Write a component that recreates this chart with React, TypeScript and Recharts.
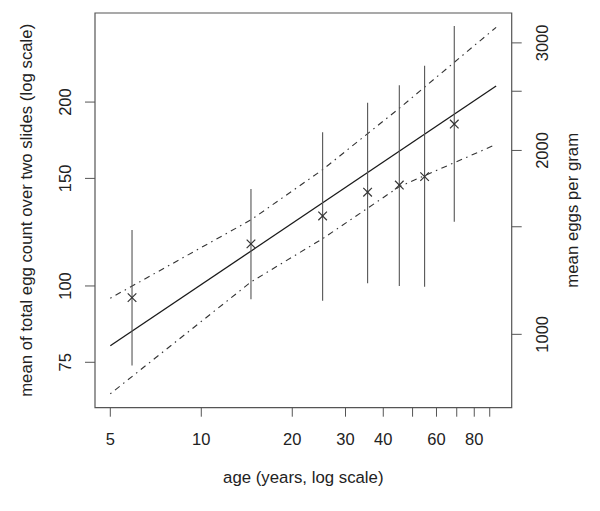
import React from "react";
import {
  ComposedChart,
  ErrorBar,
  Line,
  ReferenceArea,
  Scatter,
  XAxis,
  YAxis
} from "recharts";

// group means with intervals
const groupAge = [5.9, 14.6, 25.2, 35.5, 45.2, 54.8, 68.7];
const groupMean = [95.7, 117.2, 130.2, 142.4, 146.3, 151.0, 184.1];
const groupLow = [74.1, 95.1, 94.6, 101.0, 100.0, 99.7, 127.4];
const groupHigh = [123.5, 144.1, 178.5, 199.5, 213.1, 229.4, 266.4];

// fitted line and confidence band
const fitAge = [5, 94.5];
const fitCount = [79.8, 212.5];
const bandAge = [5, 14.6, 25.2, 45.2, 94.5];
const bandUpper = [95.5, 128.3, 155.0, 195.4, 265.1];
const bandLower = [66.6, 101.5, 119.5, 145.4, 170.5];

// axes
const xDomain = [4.45, 106.4];
const yDomain = [63.2, 279.8];
const eggsPerCount = 12;
const xTicks = [5, 10, 20, 30, 40, 50, 60, 70, 80, 90];
const xLabels = [5, 10, 20, 30, 40, 60, 80];
const yTicks = [75, 100, 150, 200];
const epgTicks = [1000, 1500, 2000, 2500, 3000];
const epgLabels = [1000, 2000, 3000];

const points = groupAge.map((age, i) => ({
  age,
  count: groupMean[i],
  err: [groupMean[i] - groupLow[i], groupHigh[i] - groupMean[i]]
}));
const fitData = fitAge.map((age, i) => ({ age, count: fitCount[i] }));
const upperData = bandAge.map((age, i) => ({ age, count: bandUpper[i] }));
const lowerData = bandAge.map((age, i) => ({ age, count: bandLower[i] }));

const font = "'Liberation Sans', Arial, sans-serif";
const fontSize = 16.5;
const ink = "#222";
const frame = "#555";

const AgeTick = (props: any) => {
  const { x, y, payload } = props;
  if (!xLabels.includes(payload.value)) return <g />;
  return (
    <text x={x} y={y + 26} textAnchor="middle" fontFamily={font} fontSize={fontSize} fill={ink}>
      {payload.value}
    </text>
  );
};

const CountTick = (props: any) => {
  const { x, y, payload } = props;
  return (
    <text transform={`translate(${x - 12.3}, ${y}) rotate(-90)`} textAnchor="middle"
      fontFamily={font} fontSize={fontSize} fill={ink}>
      {payload.value}
    </text>
  );
};

const EpgTick = (props: any) => {
  const { x, y, payload } = props;
  if (!epgLabels.includes(payload.value)) return <g />;
  return (
    <text transform={`translate(${x + 24.6}, ${y}) rotate(-90)`} textAnchor="middle"
      fontFamily={font} fontSize={fontSize} fill={ink}>
      {payload.value}
    </text>
  );
};

const CrossMark = (props: any) => {
  const { cx, cy } = props;
  const s = 4.3;
  return (
    <g stroke="#333" strokeWidth={1.2}>
      <line x1={cx - s} y1={cy - s} x2={cx + s} y2={cy + s} />
      <line x1={cx - s} y1={cy + s} x2={cx + s} y2={cy - s} />
    </g>
  );
};

export default function App() {
  return (
    <div style={{ position: "absolute", left: 0, top: 0, width: 600, height: 511, background: "#fff" }}>
      <ComposedChart width={600} height={511} margin={{ top: 13, right: 18.3, bottom: 0, left: 15 }}>
        <XAxis
          dataKey="age"
          type="number"
          scale="log"
          domain={xDomain}
          allowDataOverflow
          ticks={xTicks}
          interval={0}
          height={103.3}
          tickSize={9}
          axisLine={false}
          tickLine={{ stroke: frame }}
          tick={<AgeTick />}
        />
        <YAxis
          yAxisId="left"
          orientation="left"
          type="number"
          scale="log"
          domain={yDomain}
          allowDataOverflow
          ticks={yTicks}
          interval={0}
          width={80}
          tickSize={10}
          axisLine={false}
          tickLine={{ stroke: frame }}
          tick={<CountTick />}
        />
        <YAxis
          yAxisId="right"
          orientation="right"
          type="number"
          scale="log"
          domain={[yDomain[0] * eggsPerCount, yDomain[1] * eggsPerCount]}
          allowDataOverflow
          ticks={epgTicks}
          interval={0}
          width={70}
          tickSize={10}
          axisLine={false}
          tickLine={{ stroke: frame }}
          tick={<EpgTick />}
        />
        <ReferenceArea
          yAxisId="left"
          x1={xDomain[0]}
          x2={xDomain[1]}
          y1={yDomain[0]}
          y2={yDomain[1]}
          fill="none"
          fillOpacity={0}
          stroke={frame}
          strokeWidth={1.2}
        />
        <Line
          yAxisId="left"
          data={upperData}
          dataKey="count"
          type="linear"
          stroke="#333"
          strokeWidth={1.1}
          strokeDasharray="1.5 4.5 6 4.5"
          dot={false}
          activeDot={false}
          isAnimationActive={false}
        />
        <Line
          yAxisId="left"
          data={lowerData}
          dataKey="count"
          type="linear"
          stroke="#333"
          strokeWidth={1.1}
          strokeDasharray="1.5 4.5 6 4.5"
          dot={false}
          activeDot={false}
          isAnimationActive={false}
        />
        <Line
          yAxisId="left"
          data={fitData}
          dataKey="count"
          type="linear"
          stroke="#1a1a1a"
          strokeWidth={1.3}
          dot={false}
          activeDot={false}
          isAnimationActive={false}
        />
        <Scatter
          yAxisId="left"
          data={points}
          dataKey="count"
          shape={<CrossMark />}
          isAnimationActive={false}
        >
          <ErrorBar dataKey="err" direction="y" width={0} stroke="#555" strokeWidth={1.1} isAnimationActive={false} />
        </Scatter>
      </ComposedChart>
      <svg width={600} height={511} style={{ position: "absolute", left: 0, top: 0, pointerEvents: "none" }}>
        <g fontFamily={font} fontSize={16.8} fill={ink} textAnchor="middle">
          <text x={303.3} y={483}>age (years, log scale)</text>
          <text transform="translate(32.3, 210.3) rotate(-90)">
            mean of total egg count over two slides (log scale)
          </text>
          <text transform="translate(578.3, 210.3) rotate(-90)">mean eggs per gram</text>
        </g>
      </svg>
    </div>
  );
}
